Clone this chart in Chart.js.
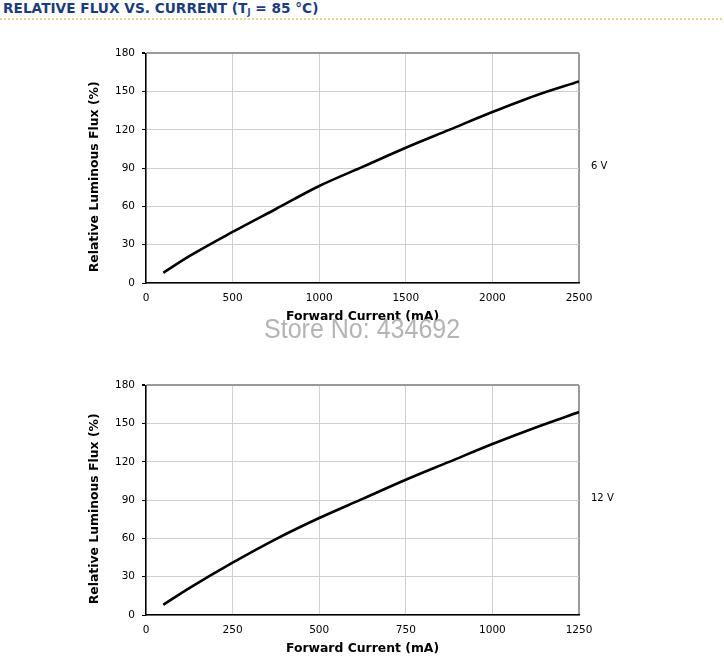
<!DOCTYPE html>
<html>
<head>
<meta charset="utf-8">
<script src="https://cdn.jsdelivr.net/npm/chart.js@4/dist/chart.umd.min.js"></script>
<style>
  html, body { margin: 0; padding: 0; width: 724px; height: 657px; overflow: hidden; background: #fff; }
  #title { position: absolute; left: 3px; top: 0px; font-family: "DejaVu Sans", sans-serif; font-weight: bold; font-size: 13.7px; color: #1d3c7c; white-space: nowrap; line-height: 17px; }
  #title sub { font-size: 8px; vertical-align: -2px; line-height: 0; }
  #rule { position: absolute; left: 0; top: 18px; width: 722px; height: 0; border-top: 2px dotted #f3d08c; }
  .wrap { position: absolute; left: 0; width: 724px; height: 287px; }
  .vlabel { position: absolute; left: 591px; font-family: "DejaVu Sans", sans-serif; font-size: 10px; color: #000; line-height: 12px; }
  #wm { position: absolute; left: 264px; top: 313px; font-family: "Liberation Sans", Arial, sans-serif; font-size: 27.5px; color: #b4b4b4; white-space: nowrap; transform-origin: 0 0; transform: scaleX(0.91); }
</style>
</head>
<body>
<div id="title">RELATIVE FLUX VS. CURRENT (T<sub>J</sub> = 85 °C)</div>
<div id="rule"></div>
<div class="wrap" style="top:40px"><canvas id="c1"></canvas></div>
<div class="wrap" style="top:372px"><canvas id="c2"></canvas></div>
<div class="vlabel" style="top:160px">6 V</div>
<div class="vlabel" style="top:492px">12 V</div>
<div id="wm">Store No: 434692</div>
<script>
// ---- data ----
const current6V  = [100, 250, 500, 750, 1000, 1250, 1500, 1750, 2000, 2250, 2500];
const flux6V     = [8, 21, 40, 58, 76, 91, 106, 120, 134, 147, 158];
const current12V = [50, 125, 250, 375, 500, 625, 750, 875, 1000, 1125, 1250];
const flux12V    = [8, 21, 41, 59.5, 76, 91, 106, 120, 134, 147, 159];
const yTicks = [0, 30, 60, 90, 120, 150, 180];
const xTicks6V = [0, 500, 1000, 1500, 2000, 2500];
const xTicks12V = [0, 250, 500, 750, 1000, 1250];
const yTitle = 'Relative Luminous Flux (%)';
const xTitle = 'Forward Current (mA)';

const FONT = '"DejaVu Sans", sans-serif';

function makeChart(id, xs, ys, xTicks) {
  const xMax = xTicks[xTicks.length - 1];
  const yMax = yTicks[yTicks.length - 1];
  return new Chart(document.getElementById(id), {
    type: 'line',
    data: {
      datasets: [{
        data: xs.map((x, i) => ({ x: x, y: ys[i] })),
        borderColor: '#000',
        borderWidth: 2.6,
        pointRadius: 0,
        cubicInterpolationMode: 'monotone',
        fill: false
      }]
    },
    options: {
      responsive: true,
      maintainAspectRatio: false,
      animation: false,
      events: [],
      layout: { padding: { top: 12, right: 145, left: 78, bottom: 0 } },
      plugins: { legend: { display: false }, tooltip: { enabled: false } },
      scales: {
        x: {
          type: 'linear', min: 0, max: xMax,
          afterBuildTicks: s => { s.ticks = xTicks.map(v => ({ value: v })); },
          afterFit: s => { s.height = 44; },
          grid: {
            drawTicks: false,
            color: c => (c.tick && c.tick.value === xMax) ? '#9a9a9a' : '#cfcfcf',
            lineWidth: c => (c.tick && c.tick.value === xMax) ? 2 : 1
          },
          border: { color: '#000', width: 1.5 },
          ticks: { color: '#000', font: { family: FONT, size: 10.5 }, padding: 9, maxRotation: 0, callback: v => String(v) },
          title: { display: true, text: xTitle, color: '#000', font: { family: FONT, size: 12.4, weight: 'bold' }, padding: { top: 0, bottom: 3 } }
        },
        y: {
          type: 'linear', min: 0, max: yMax,
          afterBuildTicks: s => { s.ticks = yTicks.map(v => ({ value: v })); },
          afterFit: s => { s.width = 68; },
          grid: {
            drawTicks: true, tickLength: 4, tickColor: '#000',
            color: c => (c.tick && c.tick.value === yMax) ? '#9a9a9a' : '#cfcfcf',
            lineWidth: c => (c.tick && c.tick.value === yMax) ? 2 : 1
          },
          border: { color: '#000', width: 1.5 },
          ticks: { color: '#000', font: { family: FONT, size: 10.5 }, padding: 7, callback: v => String(v) },
          title: { display: true, text: yTitle + '\u00a0\u00a0\u00a0\u00a0', color: '#000', font: { family: FONT, size: 12.4, weight: 'bold' }, padding: { top: 9.5, bottom: 0 } }
        }
      }
    }
  });
}

makeChart('c1', current6V, flux6V, xTicks6V);
makeChart('c2', current12V, flux12V, xTicks12V);
</script>
</body>
</html>
